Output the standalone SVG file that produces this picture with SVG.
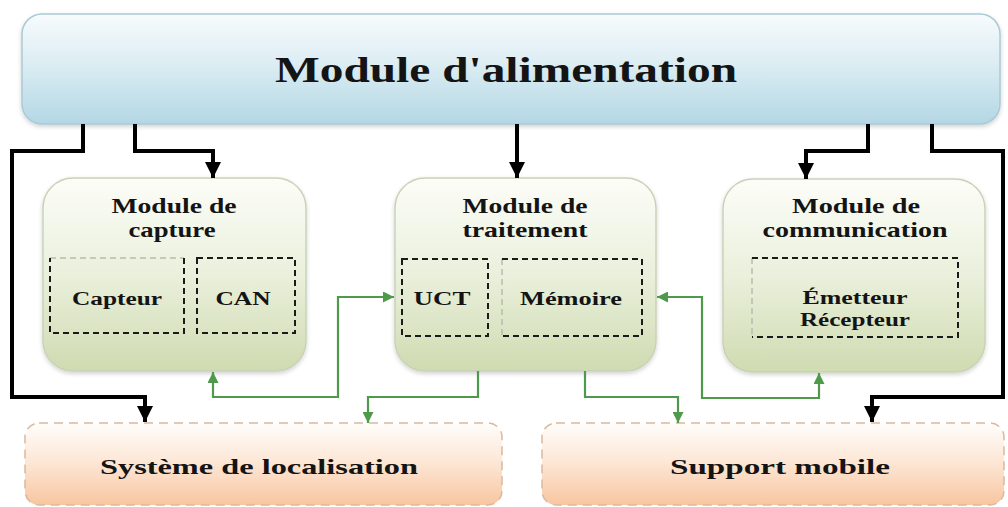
<svg xmlns="http://www.w3.org/2000/svg" width="1008" height="507" viewBox="0 0 1008 507">
  <defs>
    <linearGradient id="gBlue" x1="0" y1="0" x2="0" y2="1">
      <stop offset="0" stop-color="#f7fbfd"/>
      <stop offset="0.45" stop-color="#dcedf3"/>
      <stop offset="1" stop-color="#b3d7e4"/>
    </linearGradient>
    <linearGradient id="gGreen" x1="0" y1="0" x2="0" y2="1">
      <stop offset="0" stop-color="#fcfdf8"/>
      <stop offset="0.5" stop-color="#eaf0dc"/>
      <stop offset="1" stop-color="#cfdbb1"/>
    </linearGradient>
    <linearGradient id="gPeach" x1="0" y1="0" x2="0" y2="1">
      <stop offset="0" stop-color="#fffdfb"/>
      <stop offset="0.45" stop-color="#fde8d8"/>
      <stop offset="1" stop-color="#f8c6a0"/>
    </linearGradient>
    <filter id="shadow" x="-5%" y="-5%" width="110%" height="120%">
      <feDropShadow dx="0" dy="2" stdDeviation="2" flood-color="#000" flood-opacity="0.18"/>
    </filter>
    <marker id="arrowBlack" viewBox="0 0 10 10" refX="10" refY="5" markerWidth="4" markerHeight="4" markerUnits="strokeWidth" orient="auto">
      <path d="M0,0 L10,5 L0,10 z" fill="#000"/>
    </marker>
    <marker id="arrowGreen" viewBox="0 0 10 10" refX="10" refY="5" markerWidth="5" markerHeight="5" markerUnits="strokeWidth" orient="auto-start-reverse">
      <path d="M0,0 L10,5 L0,10 z" fill="#4f9a4a"/>
    </marker>
    <style>
      .lbl { font-family: "Liberation Serif", "Times New Roman", serif; font-weight: bold; fill: #141414; text-anchor: middle; }
      .t-main { font-size: 36px; }
      .t-mod { font-size: 21px; }
      .t-in { font-size: 18px; }
      .t-bot { font-size: 22px; }
      .mod { fill: url(#gGreen); stroke: #c9d2b6; stroke-width: 1.5; filter: url(#shadow); }
      .dash { fill: none; stroke: #1a1a1a; stroke-width: 2; stroke-dasharray: 6 4; }
      .dash-light { fill: none; stroke: #b8bcae; stroke-width: 1.5; stroke-dasharray: 6 4; }
      .pwr { fill: none; stroke: #000; stroke-width: 4; stroke-linejoin: miter; }
      .dat { fill: none; stroke: #4f9a4a; stroke-width: 2.2; }
      .bot { fill: url(#gPeach); stroke: #d9b9a0; stroke-width: 1.5; stroke-dasharray: 9 6; }
    </style>
  </defs>

  <rect width="1008" height="507" fill="#fff"/>

  <!-- power supply -->
  <g id="module-alimentation">
    <rect x="22" y="14" width="978" height="110" rx="20" fill="url(#gBlue)" stroke="#a9cad6" stroke-width="1.5" filter="url(#shadow)"/>
    <text class="lbl t-main" x="506" y="82" textLength="462" lengthAdjust="spacingAndGlyphs">Module d'alimentation</text>
  </g>

  <!-- sensing -->
  <g id="module-capture">
    <rect class="mod" x="43" y="178" width="263" height="193" rx="30"/>
    <text class="lbl t-mod" x="174" y="213" textLength="125" lengthAdjust="spacingAndGlyphs">Module de</text>
    <text class="lbl t-mod" x="172" y="237" textLength="87" lengthAdjust="spacingAndGlyphs">capture</text>
    <path class="dash-light" d="M50,258 H184"/>
    <path class="dash" d="M184,258 V333 H50 V258"/>
    <rect class="dash" x="197" y="258" width="98" height="75"/>
    <text class="lbl t-in" x="117" y="305" textLength="90" lengthAdjust="spacingAndGlyphs">Capteur</text>
    <text class="lbl t-in" x="243" y="305" textLength="55" lengthAdjust="spacingAndGlyphs">CAN</text>
  </g>

  <!-- processing -->
  <g id="module-traitement">
    <rect class="mod" x="395" y="178" width="261" height="193" rx="30"/>
    <text class="lbl t-mod" x="525" y="213" textLength="125" lengthAdjust="spacingAndGlyphs">Module de</text>
    <text class="lbl t-mod" x="525" y="237" textLength="125" lengthAdjust="spacingAndGlyphs">traitement</text>
    <rect class="dash" x="402" y="259" width="86" height="77"/>
    <path class="dash-light" d="M502,259 V336"/>
    <path class="dash" d="M502,259 H642 V336 H502"/>
    <text class="lbl t-in" x="442" y="305" textLength="57" lengthAdjust="spacingAndGlyphs">UCT</text>
    <text class="lbl t-in" x="571" y="305" textLength="102" lengthAdjust="spacingAndGlyphs">Mémoire</text>
  </g>

  <!-- communication -->
  <g id="module-communication">
    <rect class="mod" x="723" y="179" width="262" height="193" rx="30"/>
    <text class="lbl t-mod" x="856" y="213" textLength="128" lengthAdjust="spacingAndGlyphs">Module de</text>
    <text class="lbl t-mod" x="855" y="237" textLength="185" lengthAdjust="spacingAndGlyphs">communication</text>
    <path class="dash-light" d="M752,258 V337"/>
    <path class="dash" d="M752,258 H958 V337 H752"/>
    <text class="lbl t-in" x="855" y="304" textLength="105" lengthAdjust="spacingAndGlyphs">Émetteur</text>
    <text class="lbl t-in" x="855" y="326" textLength="110" lengthAdjust="spacingAndGlyphs">Récepteur</text>
  </g>

  <!-- localisation -->
  <g id="systeme-localisation">
    <rect class="bot" x="25" y="423" width="477" height="82" rx="14"/>
    <text class="lbl t-bot" x="259" y="474" textLength="318" lengthAdjust="spacingAndGlyphs">Système de localisation</text>
  </g>

  <!-- mobile support -->
  <g id="support-mobile">
    <rect class="bot" x="542" y="423" width="462" height="82" rx="14"/>
    <text class="lbl t-bot" x="780" y="474" textLength="220" lengthAdjust="spacingAndGlyphs">Support mobile</text>
  </g>

  <g id="connectors">
    <!-- power distribution -->
    <path class="pwr" d="M83,124 V151 H12 V397 H145 V422" marker-end="url(#arrowBlack)"/>
    <path class="pwr" d="M135,124 V151 H213 V178" marker-end="url(#arrowBlack)"/>
    <path class="pwr" d="M517,124 V178" marker-end="url(#arrowBlack)"/>
    <path class="pwr" d="M868,124 V151 H806 V179" marker-end="url(#arrowBlack)"/>
    <path class="pwr" d="M932,124 V151 H1003 V397 H872 V422" marker-end="url(#arrowBlack)"/>
    <!-- data links -->
    <path class="dat" d="M213,372 V397 H338 V297 H394" marker-start="url(#arrowGreen)" marker-end="url(#arrowGreen)"/>
    <path class="dat" d="M478,371 V397 H368 V423" marker-end="url(#arrowGreen)"/>
    <path class="dat" d="M585,371 V397 H678 V423" marker-end="url(#arrowGreen)"/>
    <path class="dat" d="M657,297 H702 V398 H819 V373" marker-start="url(#arrowGreen)" marker-end="url(#arrowGreen)"/>
  </g>
</svg>
